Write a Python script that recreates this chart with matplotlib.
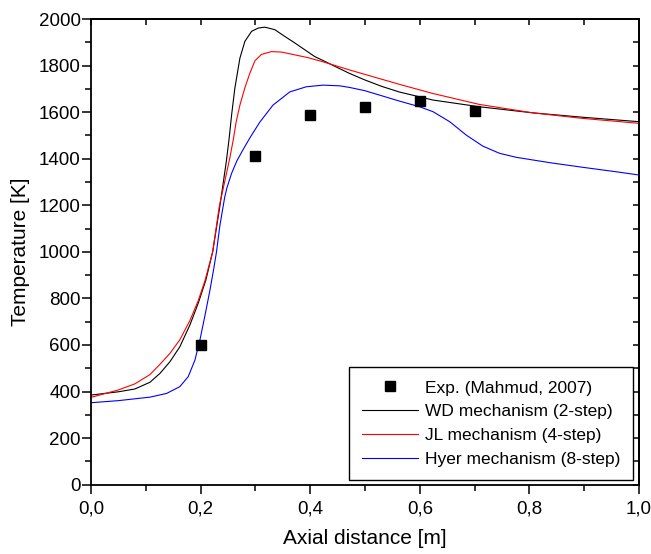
import numpy as np
import matplotlib
matplotlib.use('Agg')
import matplotlib.pyplot as plt
from matplotlib.ticker import MultipleLocator, FuncFormatter

plt.rcParams['font.family'] = ['Liberation Sans', 'DejaVu Sans']

# experimental points (Mahmud, 2007)
exp_x = [0.2, 0.3, 0.4, 0.5, 0.6, 0.7]
exp_T = [601, 1410, 1587, 1620, 1646, 1604]

# WD mechanism (2-step)
wd_x = [0.0, 0.05, 0.08, 0.1076, 0.1258, 0.144, 0.162, 0.1805, 0.1956, 0.2096,
        0.222, 0.235, 0.247, 0.2522, 0.2565, 0.2625, 0.2717, 0.2808, 0.293, 0.305,
        0.3172, 0.3355, 0.3537, 0.372, 0.390, 0.408, 0.4266, 0.45, 0.472, 0.5,
        0.53, 0.5634, 0.624, 0.709, 0.806, 0.8976, 1.0]
wd_T = [385, 399, 411, 440, 478, 528, 592, 686, 779, 879,
        1000, 1194, 1390, 1490, 1587, 1703, 1832, 1904, 1947, 1961,
        1965, 1954, 1925, 1897, 1868, 1839, 1818, 1791, 1766, 1738,
        1711, 1686, 1652, 1623, 1597, 1578, 1559]

# JL mechanism (4-step)
jl_x = [0.0, 0.05, 0.08, 0.1076, 0.1258, 0.144, 0.162, 0.1805, 0.1956, 0.2078,
        0.222, 0.234, 0.253, 0.2595, 0.265, 0.2717, 0.2808, 0.290, 0.299, 0.311,
        0.3294, 0.3476, 0.372, 0.396, 0.4235, 0.472, 0.5634, 0.624, 0.709, 0.806,
        0.8976, 1.0]
jl_T = [375, 407, 433, 473, 517, 564, 622, 705, 790, 875,
        1000, 1194, 1400, 1480, 1560, 1630, 1705, 1768, 1820, 1848,
        1860, 1858, 1846, 1834, 1816, 1781, 1719, 1680, 1633, 1597,
        1573, 1552]

# Hyer mechanism (8-step)
hy_x = [0.0, 0.05, 0.1076, 0.138, 0.162, 0.1774, 0.1896, 0.1987, 0.2078, 0.217,
        0.2235, 0.229, 0.235, 0.240, 0.244, 0.248, 0.2565, 0.266, 0.277, 0.29,
        0.308, 0.332, 0.3628, 0.393, 0.4235, 0.454, 0.472, 0.5, 0.5634, 0.5998,
        0.624, 0.6545, 0.685, 0.715, 0.7457, 0.776, 0.837, 0.8976, 0.958, 1.0]
hy_T = [352, 361, 376, 392, 421, 464, 535, 621, 725, 835,
        921, 1000, 1110, 1180, 1235, 1275, 1337, 1390, 1437, 1490,
        1557, 1630, 1687, 1709, 1716, 1713, 1706, 1692, 1647, 1623,
        1602, 1559, 1501, 1454, 1423, 1406, 1383, 1363, 1344, 1330]

fig = plt.figure(figsize=(6.51, 5.54), dpi=100)
ax = fig.add_axes([0.1398, 0.1251, 0.8418, 0.8406])

ax.plot(exp_x, exp_T, 's', color='black', markersize=7.3, label='Exp. (Mahmud, 2007)', zorder=5)
ax.plot(wd_x, wd_T, '-', color='black', lw=0.8, label='WD mechanism (2-step)')
ax.plot(jl_x, jl_T, '-', color='#ff0000', lw=0.8, label='JL mechanism (4-step)')
ax.plot(hy_x, hy_T, '-', color='#0000ff', lw=0.8, label='Hyer mechanism (8-step)')

ax.set_xlim(0, 1.0)
ax.set_ylim(0, 2000)

ax.xaxis.set_major_locator(MultipleLocator(0.2))
ax.xaxis.set_minor_locator(MultipleLocator(0.1))
ax.yaxis.set_major_locator(MultipleLocator(200))
ax.yaxis.set_minor_locator(MultipleLocator(100))
ax.xaxis.set_major_formatter(FuncFormatter(lambda v, p: ('%.1f' % v).replace('.', ',')))

ax.tick_params(which='major', direction='out', length=6.5, width=1.1, labelsize=13.5)
ax.tick_params(which='minor', direction='out', length=4.5, width=1.1)
ax.tick_params(axis='x', which='major', pad=5)
ax.tick_params(axis='y', which='major', pad=1)

for s in ax.spines.values():
    s.set_linewidth(1.3)

# inward ticks on top and right
top = ax.secondary_xaxis('top')
top.xaxis.set_major_locator(MultipleLocator(0.1))
top.tick_params(direction='in', length=4.5, width=1.1, labeltop=False)
right = ax.secondary_yaxis('right')
right.yaxis.set_major_locator(MultipleLocator(100))
right.tick_params(direction='in', length=4.5, width=1.1, labelright=False)
top.spines['top'].set_linewidth(1.3)
right.spines['right'].set_linewidth(1.3)

ax.set_xlabel('Axial distance [m]', fontsize=15, labelpad=8)
ax.set_ylabel('Temperature [K]', fontsize=15, labelpad=6)

leg = ax.legend(loc='lower right', bbox_to_anchor=(0.989, 0.01), fontsize=12.5,
                frameon=True, fancybox=False, edgecolor='black', framealpha=1,
                handlelength=3.2, labelspacing=0.5, borderaxespad=0.0,
                borderpad=0.75, handletextpad=0.4)
leg.get_frame().set_linewidth(1.0)

fig.savefig('out.png', dpi=100)
